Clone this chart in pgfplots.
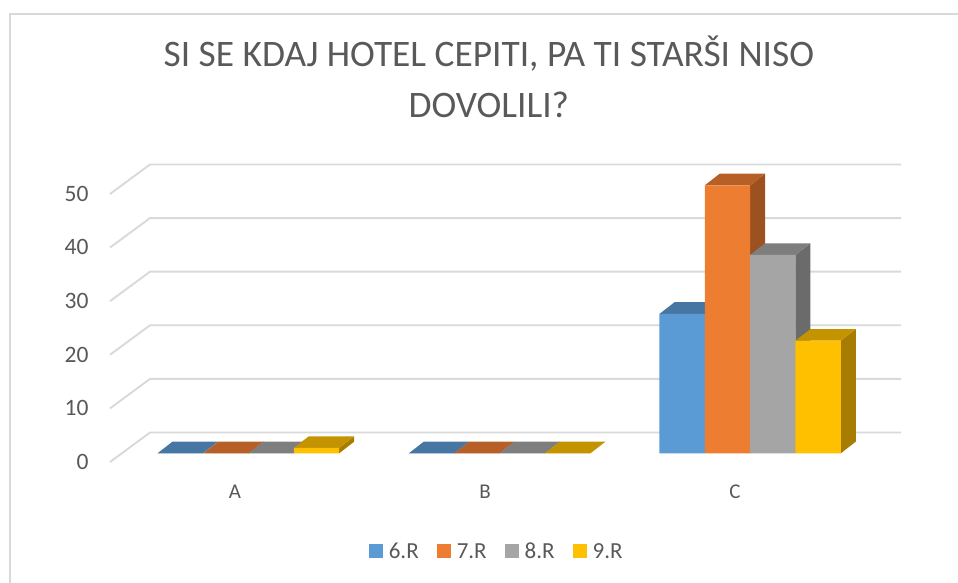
\documentclass[border=0pt]{standalone}
\usepackage{pgfplots}
\usepackage{fontspec}
\setmainfont{Carlito}
\pgfplotsset{compat=1.18}
\definecolor{tx}{HTML}{595959}
\definecolor{gridc}{HTML}{D9D9D9}
\definecolor{frontA}{HTML}{5B9BD5}\definecolor{topA}{HTML}{4776A3}\definecolor{sideA}{HTML}{3F6A92}
\definecolor{frontB}{HTML}{ED7D31}\definecolor{topB}{HTML}{B65F26}\definecolor{sideB}{HTML}{9C5120}
\definecolor{frontC}{HTML}{A5A5A5}\definecolor{topC}{HTML}{7E7E7E}\definecolor{sideC}{HTML}{6B6B6B}
\definecolor{frontD}{HTML}{FFC000}\definecolor{topD}{HTML}{C49300}\definecolor{sideD}{HTML}{A67D00}
% depth of the bars, in axis units
\def\dX{0.06}\def\dY{2.18}
% #1 letter of colour, #2 centre of bar, #3 value
\newcommand\depth[3]{%
  \pgfmathsetmacro\xa{#2-0.09075}\pgfmathsetmacro\xb{#2+0.09075}%
  \pgfmathsetmacro\xc{\xa+\dX}\pgfmathsetmacro\xd{\xb+\dX}\pgfmathsetmacro\yt{#3+\dY}%
  \edef\temp{\noexpand\addplot[fill=side#1,draw=none,forget plot] coordinates {(\xb,0) (\xd,\dY) (\xd,\yt) (\xb,#3)};
    \noexpand\addplot[fill=top#1,draw=none,forget plot] coordinates {(\xa,#3) (\xc,\yt) (\xd,\yt) (\xb,#3)};}%
  \temp}
\newcommand\wall[1]{%
  \pgfmathsetmacro\ya{#1-1.62}\pgfmathsetmacro\yb{#1+3.88}%
  \edef\temp{\noexpand\addplot[gridc,line width=1.9pt,forget plot] coordinates {(-0.5,\ya) (-0.34,\yb) (2.664,\yb)};}%
  \temp}
\begin{document}
\begin{tikzpicture}
\useasboundingbox (-110pt,-121pt) rectangle (848pt,462pt);
\draw[gridc,line width=1.6pt] (-100pt,-121pt) -- (-100pt,448pt) -- (848pt,448pt);
\begin{axis}[
  at={(0pt,0pt)},anchor=south west,
  scale only axis,width=791pt,height=298pt,
  xmin=-0.5,xmax=2.664,ymin=-1.62,ymax=53.97,
  axis line style={draw=none},clip=false,
  major tick length=0pt,
  ytick={0,10,20,30,40,50},
  xtick={0,1,2},xticklabels={A,B,C},
  /pgf/number format/assume math mode=true,
  ticklabel style={font=\fontsize{23.5}{27}\selectfont,text=tx},
  yticklabel style={anchor=east,xshift=-18pt,yshift=-8.5pt},
  xticklabel style={yshift=-19pt,font=\fontsize{21}{25}\selectfont},
  title={SI SE KDAJ HOTEL CEPITI, PA TI STARŠI NISO\\DOVOLILI?},
  title style={at={(rel axis cs:0.479,1.272)},anchor=center,align=center,text=tx,
    font=\fontsize{37.4}{50.5}\selectfont},
  legend cell align=left,
  legend columns=4,
  legend style={at={(rel axis cs:0.4889,-0.3)},anchor=center,draw=none,fill=none,
    font=\fontsize{23}{27}\selectfont,text=tx,
    /tikz/every odd column/.append style={column sep=4pt},
    /tikz/every even column/.append style={column sep=16pt}},
  legend image code/.code={\fill[#1] (0pt,-7pt) rectangle (14pt,7pt);},
]
\wall{0}\wall{10}\wall{20}\wall{30}\wall{40}\wall{50}
\depth{A}{-0.2192}{0}\depth{A}{0.7860}{0}\depth{A}{1.7886}{26}
\addplot[ybar,bar width=0.1815,bar shift=0pt,fill=frontA,draw=none] coordinates {(-0.2192,0) (0.7860,0) (1.7886,26)};
\addlegendentry{6.R}
\depth{B}{-0.0360}{0}\depth{B}{0.9675}{0}\depth{B}{1.9700}{50}
\addplot[ybar,bar width=0.1815,bar shift=0pt,fill=frontB,draw=none] coordinates {(-0.0360,0) (0.9675,0) (1.9700,50)};
\addlegendentry{7.R}
\depth{C}{0.1452}{0}\depth{C}{1.1490}{0}\depth{C}{2.1510}{37}
\addplot[ybar,bar width=0.1815,bar shift=0pt,fill=frontC,draw=none] coordinates {(0.1452,0) (1.1490,0) (2.1510,37)};
\addlegendentry{8.R}
\depth{D}{0.3260}{1}\depth{D}{1.3305}{0}\depth{D}{2.3324}{21}
\addplot[ybar,bar width=0.1815,bar shift=0pt,fill=frontD,draw=none] coordinates {(0.3260,1) (1.3305,0) (2.3324,21)};
\addlegendentry{9.R}
\end{axis}
\end{tikzpicture}
\end{document}
